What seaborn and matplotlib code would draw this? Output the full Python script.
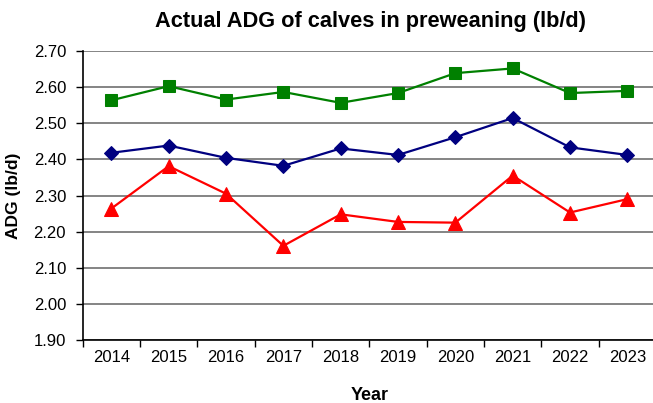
import matplotlib
matplotlib.use("Agg")
import matplotlib.pyplot as plt
import seaborn as sns
import pandas as pd
import numpy as np

years = [2014, 2015, 2016, 2017, 2018, 2019, 2020, 2021, 2022, 2023]
green_series = [2.563, 2.602, 2.565, 2.586, 2.556, 2.583, 2.638, 2.651, 2.583, 2.589]
blue_series = [2.418, 2.438, 2.404, 2.382, 2.430, 2.412, 2.461, 2.514, 2.433, 2.412]
red_series = [2.264, 2.381, 2.305, 2.161, 2.248, 2.227, 2.225, 2.355, 2.253, 2.290]
y_ticks = [1.90, 2.00, 2.10, 2.20, 2.30, 2.40, 2.50, 2.60, 2.70]

sns.set_theme(style="white")
plt.rcParams['font.family'] = ['Liberation Sans', 'DejaVu Sans']
plt.rcParams['text.color'] = 'black'
plt.rcParams['axes.labelcolor'] = 'black'

fig = plt.figure(figsize=(6.53, 4.03), dpi=100)
left = 82.7 / 653
right = 656 / 653
bottom = (403 - 340.3) / 403
top = (403 - 50.7) / 403
ax = fig.add_axes([left, bottom, right - left, top - bottom])

series = [
    (green_series, "#008000", "s", 8.6),
    (blue_series, "#000080", "D", 7.2),
    (red_series, "#FF0000", "^", 9.5),
]
for vals, col, mk, ms in series:
    df = pd.DataFrame({"Year": years, "ADG": vals})
    sns.lineplot(data=df, x="Year", y="ADG", ax=ax, color=col, marker=mk,
                 markersize=ms, markeredgecolor=col, linewidth=1.6, zorder=3,
                 clip_on=False)

ax.set_xlim(years[0] - 0.5, years[-1] + 0.5)
ax.set_ylim(y_ticks[0], y_ticks[-1])
ax.set_yticks(y_ticks)
ax.set_yticklabels([f"{v:.2f}" for v in y_ticks])
ax.set_xticks(years)
ax.set_xticklabels([str(y) for y in years])
ax.set_xticks([y + 0.5 for y in [years[0] - 1] + years], minor=True)
ax.tick_params(axis='x', which='major', length=0, pad=7, labelsize=12, colors='black')
ax.tick_params(axis='x', which='minor', length=5, width=1, color='black', direction='out', bottom=True)
ax.tick_params(axis='y', which='major', length=5, width=1, color='black', direction='out',
               left=True, pad=7, labelsize=12, colors='black')

ax.yaxis.grid(True, color='#707070', linewidth=1.2)
ax.xaxis.grid(False)
ax.set_axisbelow(True)
for s in ['top', 'right']:
    ax.spines[s].set_visible(False)
for s in ['left', 'bottom']:
    ax.spines[s].set_color('black')
    ax.spines[s].set_linewidth(1.2)

ax.set_xlabel("Year", fontsize=13, fontweight='bold', labelpad=16, color='black')
ax.set_ylabel("ADG (lb/d)", fontsize=12.5, fontweight='bold', labelpad=9, color='black')
fig.text(370.5 / 653, 1 - 22 / 403, "Actual ADG of calves in preweaning (lb/d)",
         ha='center', va='center', fontsize=15.7, fontweight='bold', color='black')

fig.savefig("out.png", dpi=100)
